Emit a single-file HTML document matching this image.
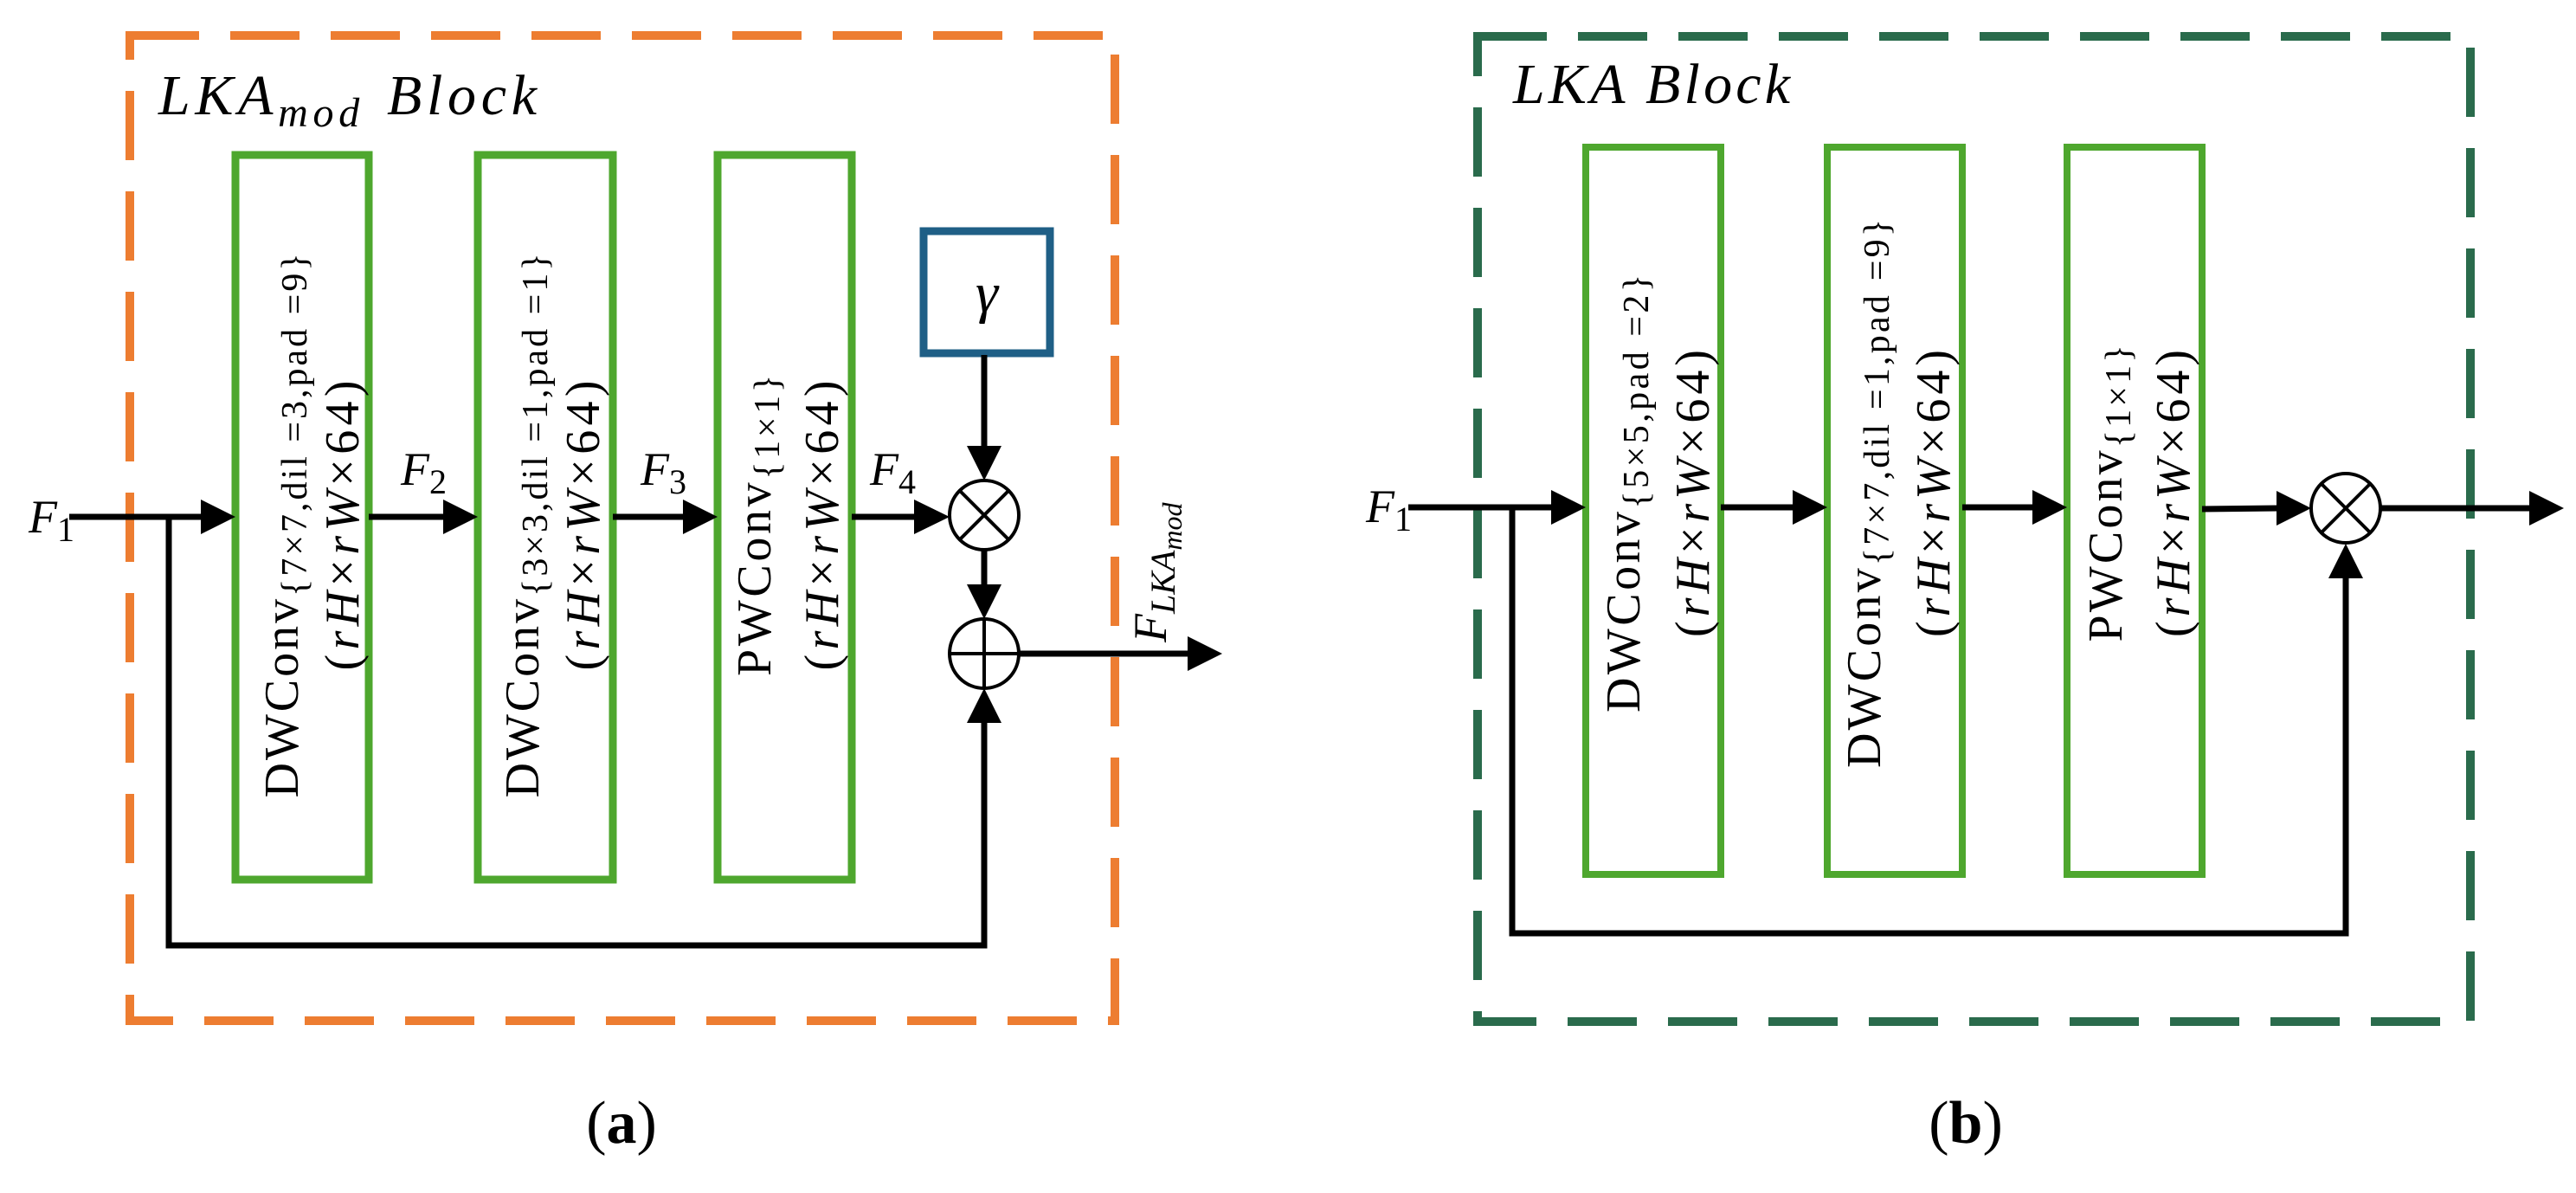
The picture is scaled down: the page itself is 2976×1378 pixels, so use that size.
<!DOCTYPE html>
<html><head><meta charset="utf-8"><style>
html,body{margin:0;padding:0;background:#fff;}
svg{display:block;}
text{font-family:"Liberation Serif",serif;fill:#000;}
.it{font-style:italic;font-family:"Liberation Serif",serif;}
</style></head><body>
<svg width="2976" height="1378" viewBox="0 0 2976 1378" xmlns="http://www.w3.org/2000/svg">
<!-- Panel a -->
<rect x="150" y="41" width="1138" height="1138" fill="none" stroke="#ed7d31" stroke-width="10" stroke-dasharray="80 36"/>
<text x="183" y="132" font-size="66" class="it" textLength="437" lengthAdjust="spacing">LKA<tspan font-size="48" dy="14">mod</tspan><tspan dy="-14" dx="26">Block</tspan></text>

<g fill="none" stroke="#4ea72e" stroke-width="9">
<rect x="272" y="179" width="154" height="837"/>
<rect x="552" y="179" width="156" height="837"/>
<rect x="829" y="179" width="155" height="837"/>
</g>
<rect x="1067" y="267" width="146" height="141" fill="none" stroke="#1f5f86" stroke-width="9"/>
<text x="1140" y="360" font-size="66" class="it" text-anchor="middle">γ</text>

<g stroke="#000" stroke-width="7" fill="none">
<line x1="80" y1="597" x2="235" y2="597"/>
<line x1="426" y1="597" x2="515" y2="597"/>
<line x1="708" y1="597" x2="792" y2="597"/>
<line x1="984" y1="597" x2="1060" y2="597"/>
<polyline points="195,597 195,1092 1137,1092 1137,830"/>
<line x1="1137" y1="410" x2="1137" y2="520"/>
<line x1="1137" y1="635" x2="1137" y2="680"/>
<line x1="1177" y1="755" x2="1375" y2="755"/>
</g>
<g fill="#000">
<polygon points="232,577 272,597 232,617"/>
<polygon points="512,577 552,597 512,617"/>
<polygon points="789,577 829,597 789,617"/>
<polygon points="1056,577 1097,597 1056,617"/>
<polygon points="1117,515 1137,555 1157,515"/>
<polygon points="1117,675 1137,715 1157,675"/>
<polygon points="1117,835 1137,795 1157,835"/>
<polygon points="1372,735 1412,755 1372,775"/>
</g>
<g stroke="#000" stroke-width="4" fill="#fff">
<circle cx="1137" cy="595" r="40"/>
<line x1="1109" y1="567" x2="1165" y2="623"/>
<line x1="1165" y1="567" x2="1109" y2="623"/>
<circle cx="1137" cy="755" r="40"/>
<line x1="1097" y1="755" x2="1177" y2="755"/>
<line x1="1137" y1="715" x2="1137" y2="795"/>
</g>

<text x="33" y="615" font-size="54" class="it">F<tspan font-size="40" dy="10" font-style="normal">1</tspan></text>
<text x="463" y="560" font-size="54" class="it">F<tspan font-size="40" dy="10" font-style="normal">2</tspan></text>
<text x="740" y="560" font-size="54" class="it">F<tspan font-size="40" dy="10" font-style="normal">3</tspan></text>
<text x="1005" y="560" font-size="54" class="it">F<tspan font-size="40" dy="10" font-style="normal">4</tspan></text>
<text transform="translate(1347,742) rotate(-90)" font-size="54" class="it">F<tspan font-size="40" dy="10">LKA</tspan><tspan font-size="32" dy="8">mod</tspan></text>

<!-- rotated box texts a -->
<text transform="translate(344,607) rotate(-90)" font-size="56" text-anchor="middle" textLength="629" lengthAdjust="spacing">DWConv<tspan font-size="42" dy="10">{7×7,dil =3,pad =9}</tspan></text>
<text transform="translate(414,607) rotate(-90)" font-size="56" text-anchor="middle" textLength="335" lengthAdjust="spacing">(<tspan class="it">rH</tspan>×<tspan class="it">rW</tspan>×64)</text>
<text transform="translate(622,607) rotate(-90)" font-size="56" text-anchor="middle" textLength="629" lengthAdjust="spacing">DWConv<tspan font-size="42" dy="10">{3×3,dil =1,pad =1}</tspan></text>
<text transform="translate(692,607) rotate(-90)" font-size="56" text-anchor="middle" textLength="335" lengthAdjust="spacing">(<tspan class="it">rH</tspan>×<tspan class="it">rW</tspan>×64)</text>
<text transform="translate(890,607) rotate(-90)" font-size="56" text-anchor="middle" textLength="348" lengthAdjust="spacing">PWConv<tspan font-size="42" dy="10">{1×1}</tspan></text>
<text transform="translate(968,607) rotate(-90)" font-size="56" text-anchor="middle" textLength="335" lengthAdjust="spacing">(<tspan class="it">rH</tspan>×<tspan class="it">rW</tspan>×64)</text>

<text x="718" y="1320" font-size="70" text-anchor="middle">(<tspan font-weight="bold">a</tspan>)</text>

<!-- Panel b -->
<rect x="1707" y="42" width="1147" height="1138" fill="none" stroke="#2a6b4c" stroke-width="10" stroke-dasharray="80 36"/>
<text x="1748" y="119" font-size="66" class="it" textLength="320" lengthAdjust="spacing">LKA Block</text>
<g fill="none" stroke="#4ea72e" stroke-width="8">
<rect x="1832" y="170" width="156" height="840"/>
<rect x="2111" y="170" width="156" height="840"/>
<rect x="2388" y="170" width="156" height="840"/>
</g>
<g stroke="#000" stroke-width="7" fill="none">
<line x1="1627" y1="586" x2="1795" y2="586"/>
<line x1="1988" y1="586" x2="2075" y2="586"/>
<line x1="2267" y1="586" x2="2352" y2="586"/>
<line x1="2544" y1="588" x2="2632" y2="587"/>
<polyline points="1747,586 1747,1078 2710,1078 2710,664"/>
<line x1="2750" y1="587" x2="2925" y2="587"/>
</g>
<g fill="#000">
<polygon points="1792,566 1832,586 1792,606"/>
<polygon points="2071,566 2111,586 2071,606"/>
<polygon points="2348,566 2388,586 2348,606"/>
<polygon points="2630,567 2670,587 2630,607"/>
<polygon points="2690,668 2710,628 2730,668"/>
<polygon points="2922,567 2962,587 2922,607"/>
</g>
<g stroke="#000" stroke-width="4" fill="#fff">
<circle cx="2710" cy="587" r="40"/>
<line x1="2682" y1="559" x2="2738" y2="615"/>
<line x1="2738" y1="559" x2="2682" y2="615"/>
</g>
<text x="1578" y="603" font-size="54" class="it">F<tspan font-size="40" dy="10" font-style="normal">1</tspan></text>

<text transform="translate(1894,570) rotate(-90)" font-size="56" text-anchor="middle" textLength="506" lengthAdjust="spacing">DWConv<tspan font-size="42" dy="10">{5×5,pad =2}</tspan></text>
<text transform="translate(1974,570) rotate(-90)" font-size="56" text-anchor="middle" textLength="332" lengthAdjust="spacing">(<tspan class="it">rH</tspan>×<tspan class="it">rW</tspan>×64)</text>
<text transform="translate(2172,570) rotate(-90)" font-size="56" text-anchor="middle" textLength="634" lengthAdjust="spacing">DWConv<tspan font-size="42" dy="10">{7×7,dil =1,pad =9}</tspan></text>
<text transform="translate(2252,570) rotate(-90)" font-size="56" text-anchor="middle" textLength="332" lengthAdjust="spacing">(<tspan class="it">rH</tspan>×<tspan class="it">rW</tspan>×64)</text>
<text transform="translate(2451,570) rotate(-90)" font-size="56" text-anchor="middle" textLength="343" lengthAdjust="spacing">PWConv<tspan font-size="42" dy="10">{1×1}</tspan></text>
<text transform="translate(2529,570) rotate(-90)" font-size="56" text-anchor="middle" textLength="332" lengthAdjust="spacing">(<tspan class="it">rH</tspan>×<tspan class="it">rW</tspan>×64)</text>

<text x="2271" y="1320" font-size="70" text-anchor="middle">(<tspan font-weight="bold">b</tspan>)</text>
</svg>
</body></html>
